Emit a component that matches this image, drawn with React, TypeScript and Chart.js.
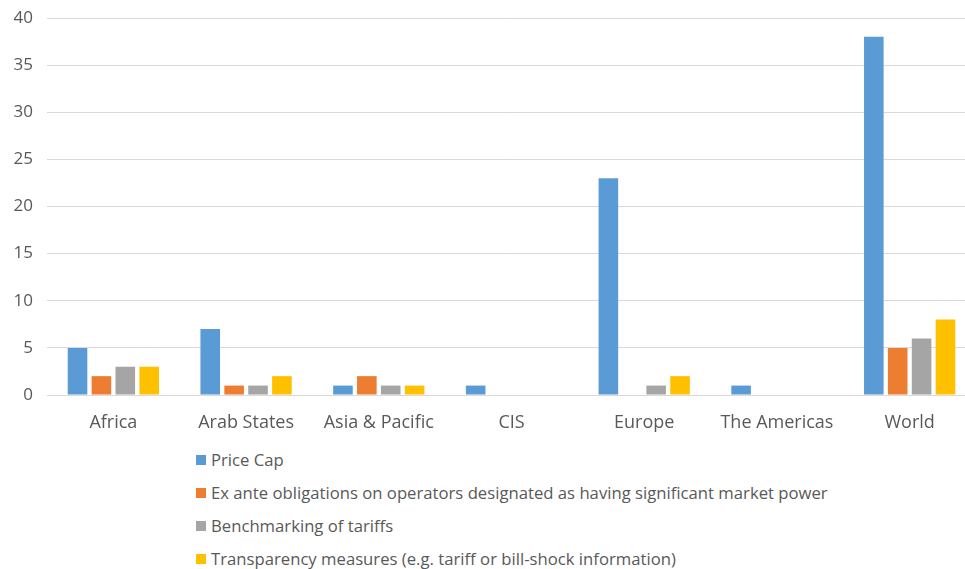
import React, { useEffect, useRef } from "react";
import { Chart, registerables } from "chart.js";

Chart.register(...registerables);

const categories = ["Africa", "Arab States", "Asia & Pacific", "CIS", "Europe", "The Americas", "World"];
const seriesNames = [
  "Price Cap",
  "Ex ante obligations on operators designated as having significant market power",
  "Benchmarking of tariffs",
  "Transparency measures (e.g. tariff or bill-shock information)",
];
const priceCap = [5, 7, 1, 1, 23, 1, 38];
const exAnte = [2, 1, 2, 0, 0, 0, 5];
const benchmarking = [3, 1, 1, 0, 1, 0, 6];
const transparency = [3, 2, 1, 0, 2, 0, 8];
const colors = ["#5B9BD5", "#ED7D31", "#A5A5A5", "#FFC000"];

const FONT = "'Open Sans', sans-serif";

export default function App() {
  const ref = useRef<HTMLCanvasElement | null>(null);
  useEffect(() => {
    if (!ref.current) return;
    const values = [priceCap, exAnte, benchmarking, transparency];
    const chart = new Chart(ref.current, {
      type: "bar",
      data: {
        labels: categories,
        datasets: values.map((v, i) => ({
          label: seriesNames[i],
          data: v,
          backgroundColor: colors[i],
          borderWidth: 0,
          barPercentage: 0.82,
          categoryPercentage: 0.72,
        })),
      },
      options: {
        animation: false,
        responsive: false,
        maintainAspectRatio: false,
        layout: { padding: { top: 18, left: 0, right: 0, bottom: 0 } },
        plugins: { legend: { display: false }, tooltip: { enabled: false } },
        scales: {
          x: {
            grid: { display: false },
            border: { display: false },
            ticks: { color: "#595959", font: { family: FONT, size: 18 }, padding: 9, maxRotation: 0 },
            afterFit: (s: any) => { s.height = 45; s.paddingLeft = 0; s.paddingRight = 0; },
          },
          y: {
            min: 0,
            max: 40,
            ticks: { stepSize: 5, color: "#595959", font: { family: FONT, size: 17 }, padding: 14 },
            grid: { color: "#D9D9D9", lineWidth: 1, drawTicks: false },
            border: { display: false },
            afterFit: (s: any) => { s.width = 47; s.paddingTop = 0; s.paddingBottom = 0; },
          },
        },
      },
    });
    return () => chart.destroy();
  }, []);

  return (
    <div style={{ position: "fixed", left: 0, top: 0, width: 965, height: 569, overflow: "hidden", background: "#fff" }}>
      <canvas ref={ref} width={976} height={440} style={{ position: "absolute", left: 0, top: 0, width: 976, height: 440 }} />
      <div style={{ position: "absolute", left: 196, top: 443, fontFamily: FONT, fontSize: 16.7, color: "#595959" }}>
        {seriesNames.map((n, i) => (
          <div key={n} style={{ height: 33, display: "flex", alignItems: "center", whiteSpace: "nowrap" }}>
            <span style={{ display: "inline-block", width: 10, height: 10, background: colors[i], marginRight: 5 }} />
            <span>{n}</span>
          </div>
        ))}
      </div>
    </div>
  );
}
